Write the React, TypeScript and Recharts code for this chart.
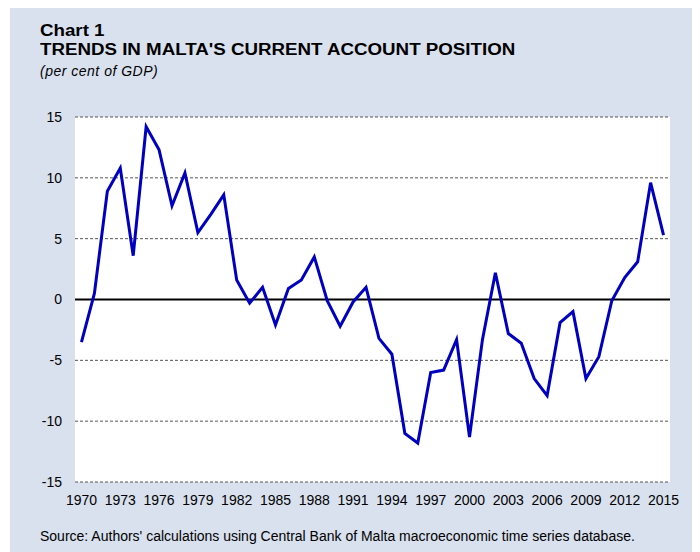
import React from 'react';
import { LineChart, Line, XAxis, YAxis, CartesianGrid, ReferenceLine } from 'recharts';

// Current account balance, per cent of GDP
const years = [
  1970, 1971, 1972, 1973, 1974, 1975, 1976, 1977, 1978, 1979,
  1980, 1981, 1982, 1983, 1984, 1985, 1986, 1987, 1988, 1989,
  1990, 1991, 1992, 1993, 1994, 1995, 1996, 1997, 1998, 1999,
  2000, 2001, 2002, 2003, 2004, 2005, 2006, 2007, 2008, 2009,
  2010, 2011, 2012, 2013, 2014, 2015,
];
const currentAccount = [
  -3.5, 0.5, 8.9, 10.8, 3.6, 14.2, 12.3, 7.7, 10.4, 5.5,
  7.0, 8.6, 1.6, -0.3, 1.0, -2.1, 0.9, 1.6, 3.5, -0.1,
  -2.2, -0.2, 1.0, -3.2, -4.5, -11.0, -11.8, -6.0, -5.8, -3.3,
  -11.3, -3.3, 2.2, -2.8, -3.6, -6.5, -7.9, -1.9, -1.0, -6.5,
  -4.7, -0.1, 1.8, 3.1, 9.6, 5.3,
];
const xTicks = [1970, 1973, 1976, 1979, 1982, 1985, 1988, 1991, 1994, 1997, 2000, 2003, 2006, 2009, 2012, 2015];
const yTicks = [-15, -10, -5, 0, 5, 10, 15];

const data = years.map((year, i) => ({ year, value: currentAccount[i] }));

const font = 'Arial, "Liberation Sans", sans-serif';

export default function App() {
  return (
    <div
      style={{
        position: 'relative',
        width: 690,
        height: 544,
        marginLeft: 2,
        background: '#d9e0ee',
        fontFamily: font,
        color: '#000',
      }}
    >
      {/* title in the original is a little wider than plain Arial, so stretch it */}
      <div
        style={{
          position: 'absolute',
          left: 30,
          top: 13,
          fontSize: 16,
          fontWeight: 'bold',
          lineHeight: '19.3px',
          whiteSpace: 'nowrap',
          transform: 'scaleX(1.17)',
          transformOrigin: 'left top',
        }}
      >
        Chart 1
        <br />
        TRENDS IN MALTA'S CURRENT ACCOUNT POSITION
      </div>
      <div style={{ position: 'absolute', left: 30, top: 55, fontSize: 14, fontStyle: 'italic', letterSpacing: 0.5 }}>
        (per cent of GDP)
      </div>

      <LineChart
        width={690}
        height={544}
        data={data}
        margin={{ top: 109, right: 30, bottom: 40, left: 0 }}
      >
        <CartesianGrid vertical={false} fill="#ffffff" stroke="#555" strokeDasharray="3 2" />
        <XAxis
          dataKey="year"
          type="number"
          domain={[1969.5, 2015.5]}
          ticks={xTicks}
          interval={0}
          axisLine={false}
          tickLine={false}
          tickMargin={7}
          height={30}
          tick={{ fill: '#000', fontSize: 14, fontFamily: font }}
        />
        <YAxis
          domain={[-15, 15]}
          ticks={yTicks}
          interval={0}
          axisLine={false}
          tickLine={false}
          width={65}
          tickMargin={7}
          tick={{ fill: '#000', fontSize: 14, fontFamily: font }}
        />
        <ReferenceLine y={0} stroke="#000" strokeWidth={2} />
        <Line
          type="linear"
          dataKey="value"
          stroke="#0000c0"
          strokeWidth={3}
          dot={false}
          isAnimationActive={false}
        />
      </LineChart>

      <div style={{ position: 'absolute', left: 30, top: 520, fontSize: 14, whiteSpace: 'nowrap' }}>
        Source: Authors' calculations using Central Bank of Malta macroeconomic time series database.
      </div>
    </div>
  );
}
